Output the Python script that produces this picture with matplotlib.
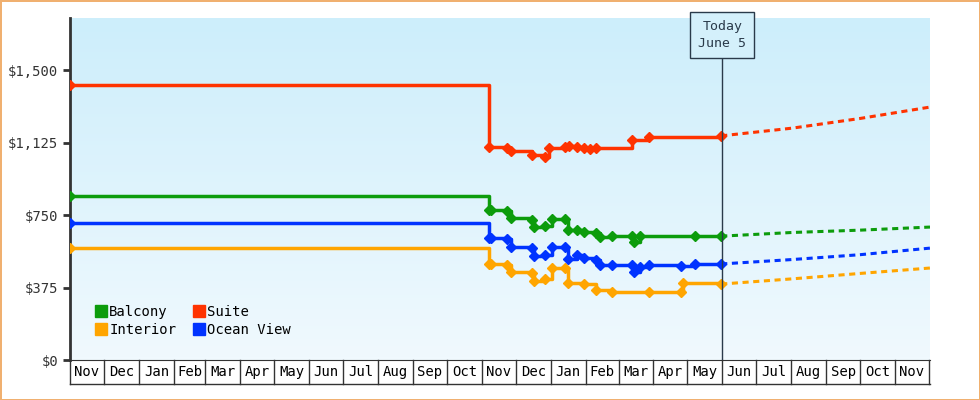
import numpy as np
import pandas as pd
import matplotlib.pyplot as plt
import matplotlib.transforms as mtrans
from matplotlib.colors import LinearSegmentedColormap

plt.rcParams['font.family'] = ['DejaVu Sans Mono']

# days since Nov 1 2022
suite_days = [0, 371, 387, 391, 409, 421, 424, 439, 442, 449, 455, 461, 466, 498, 513, 577]
suite_vals = [1423, 1102, 1095, 1080, 1060, 1050, 1095, 1100, 1105, 1100, 1095, 1090, 1098, 1138, 1155, 1160]
balcony_days = [0, 371, 373, 387, 391, 409, 411, 421, 427, 439, 441, 449, 455, 466, 470, 480, 498, 500, 505, 554, 577]
balcony_vals = [848, 776, 776, 770, 734, 724, 688, 693, 729, 729, 672, 672, 662, 657, 636, 641, 641, 610, 641, 641, 641]
ocean_days = [0, 371, 373, 387, 391, 409, 411, 421, 427, 439, 441, 449, 455, 466, 470, 480, 498, 500, 505, 513, 541, 554, 577]
ocean_vals = [708, 631, 631, 625, 585, 580, 538, 543, 585, 585, 522, 543, 528, 517, 491, 491, 491, 455, 481, 491, 485, 497, 497]
interior_days = [0, 371, 373, 387, 391, 409, 411, 421, 427, 439, 441, 455, 466, 480, 513, 541, 543, 577]
interior_vals = [579, 497, 497, 490, 455, 450, 409, 419, 476, 476, 398, 393, 362, 352, 352, 352, 398, 393]

fc_days = [577, 640, 700, 762]
fc_suite = [1160, 1200, 1250, 1309]
fc_balcony = [641, 660, 672, 688]
fc_ocean = [497, 520, 545, 579]
fc_interior = [393, 420, 448, 476]

today = 578

fig = plt.figure(figsize=(9.8, 4), dpi=100)
fig.patch.set_edgecolor('#f0b070')
fig.patch.set_linewidth(2)
ax = fig.add_axes([70 / 980, 40 / 400, 860 / 980, 342 / 400])
xmax, ymax = 762, 1770
grad = np.linspace(0, 1, 100).reshape(-1, 1)
cmap = LinearSegmentedColormap.from_list('g', ['#cdeefb', '#f0f9fe'])
ax.imshow(grad, cmap=cmap, extent=[0, xmax, 0, ymax], origin='upper', aspect='auto', zorder=0)

series = [
    ('Balcony', '#0c9c0c', balcony_days, balcony_vals, fc_balcony),
    ('Interior', '#ffa500', interior_days, interior_vals, fc_interior),
    ('Suite', '#ff3300', suite_days, suite_vals, fc_suite),
    ('Ocean View', '#0033ff', ocean_days, ocean_vals, fc_ocean),
]
handles = []
for name, c, d, v, fc in series:
    ax.plot(d, v, drawstyle='steps-post', color=c, lw=2.5, zorder=3)
    ax.plot(d, v, 'D', color=c, ms=5, zorder=4)
    ax.plot(fc_days, fc, color=c, lw=2.2, dashes=(2, 1.5), zorder=3)
    handles.append(ax.plot([], [], 's', color=c, ms=9, label=name)[0])

ax.legend(handles=handles, ncol=2, loc='lower left', frameon=False, fontsize=10,
          handlelength=0.8, handletextpad=0.2, columnspacing=1.2, labelspacing=0.3,
          bbox_to_anchor=(0.015, 0.03))

ax.axvline(today, ymax=0.96, color='#2a3a4a', lw=1, zorder=5)
ax.text(today, 1680, 'Today\nJune 5', ha='center', va='center', fontsize=9.5, color='#2a3a4a',
        linespacing=1.4,
        bbox=dict(boxstyle='square,pad=0.6', fc='#d4f0fb', ec='#2a3a4a', lw=1), zorder=6)

ax.set_xlim(0, xmax)
ax.set_ylim(0, ymax)
ax.set_yticks([0, 375, 750, 1125, 1500])
ax.set_yticklabels(['$0', '$375', '$750', '$1,125', '$1,500'], fontsize=10, color='#333333')
ax.tick_params(axis='y', length=5, width=2, color='#333333')
ax.set_xticks([])
for s in ['top', 'right']:
    ax.spines[s].set_visible(False)
ax.spines['left'].set_linewidth(2)
ax.spines['left'].set_color('#333333')
ax.spines['bottom'].set_color('#333333')

months = pd.date_range('2022-11-01', '2024-12-01', freq='MS')
bounds = [(m - months[0]).days for m in months]
tr = mtrans.blended_transform_factory(ax.transData, ax.transAxes)
ax.plot([0, xmax], [-0.07, -0.07], color='#333333', lw=1, transform=tr, clip_on=False)
for i in range(len(bounds) - 1):
    ax.plot([bounds[i], bounds[i]], [0, -0.07], color='#333333', lw=1, transform=tr, clip_on=False)
    ax.text((bounds[i] + bounds[i + 1]) / 2, -0.035, months[i].strftime('%b'), ha='center', va='center',
            fontsize=10, transform=tr, clip_on=False)
ax.plot([bounds[-1], bounds[-1]], [0, -0.07], color='#333333', lw=1, transform=tr, clip_on=False)

fig.savefig('out.png', dpi=100, edgecolor=fig.get_edgecolor())
